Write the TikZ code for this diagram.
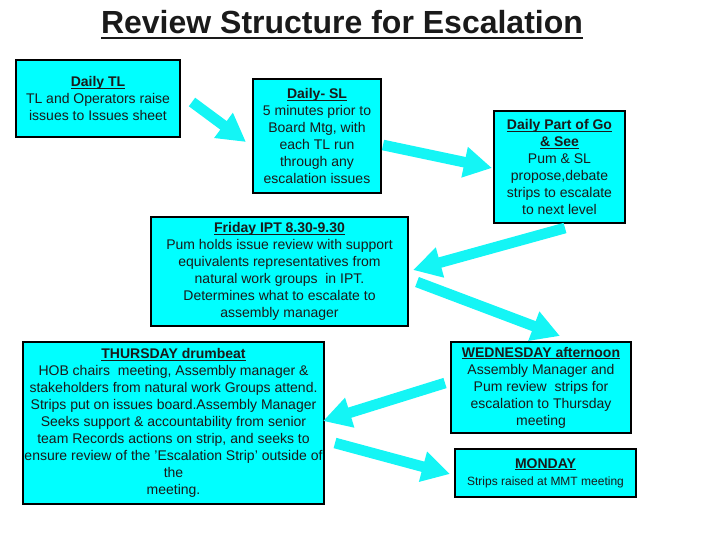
\documentclass[tikz,border=0pt]{standalone}
\usepackage{fontspec}
\setmainfont{Liberation Sans}
\usetikzlibrary{arrows.meta}
\definecolor{ink}{HTML}{1A1A1A}
\definecolor{aqua}{HTML}{00FFFF}
\definecolor{flowcol}{HTML}{14F5F5}
\tikzset{
  card/.style 2 args={draw=black,line width=0.9pt,fill=aqua,inner sep=0pt,
    minimum width=#1,minimum height=#2,align=center,text=ink,
    font=\fontsize{10.5}{12.75}\selectfont},
  push/.style={flowcol,line width=8pt,-{Triangle[length=21pt,width=22pt]}},
}
% bold heading with a rule close under the baseline
\newcommand{\hd}[1]{\leavevmode\setbox0=\hbox{\bfseries #1}\rlap{\copy0}\rule[-1.7pt]{\wd0}{0.7pt}}

\begin{document}
\begin{tikzpicture}[x=0.75pt,y=-0.75pt]
\useasboundingbox (0,0) rectangle (720,540);

% ---------------------------------------------------------------- title
\node[text=ink,font=\bfseries\fontsize{24}{28}\selectfont] (title) at (342,25)
     {\setbox0=\hbox{Review Structure for Escalation}\rlap{\copy0}\rule[-4pt]{\wd0}{1.5pt}};

% ---------------------------------------------------------------- boxes
\node[card={123pt}{57.75pt}] (tl) at (98,98.5)
     {\hd{Daily TL}\\TL and Operators raise\\issues to Issues sheet};
\node[card={96pt}{85.5pt}] (sl) at (317,136)
     {\hd{Daily- SL}\\5 minutes prior to\\Board Mtg, with\\each TL run\\through any\\escalation issues};
\node[card={98.25pt}{84pt}] (gosee) at (559.5,167)
     {\hd{Daily Part of Go}\\\hd{\& See}\\Pum \& SL\\propose,debate\\strips to escalate\\to next level};
\node[card={192.75pt}{81.75pt}] (fri) at (279.5,271.5)
     {\hd{Friday IPT 8.30-9.30}\\Pum holds issue review with support\\equivalents representatives from\\natural work groups \ in IPT.\\Determines what to escalate to\\assembly manager};
\node[card={225.75pt}{121.5pt}] (thu) at (173.5,423)
     {\hd{THURSDAY drumbeat}\\HOB chairs \ meeting, Assembly manager \&\\stakeholders from natural work Groups attend.\\Strips put on issues board.Assembly Manager\\Seeks support \& accountability from senior\\team Records actions on strip, and seeks to\\ensure review of the 'Escalation Strip' outside of\\the\\meeting.};
\node[card={135pt}{68.25pt}] (wed) at (541,387.5)
     {\hd{WEDNESDAY afternoon}\\Assembly Manager and\\Pum review \ strips for\\escalation to Thursday\\meeting};
\node[card={135.75pt}{36pt}] (mon) at (545.5,473)
     {\hd{MONDAY}\\{\fontsize{9}{12}\selectfont Strips raised at MMT meeting}};

% ---------------------------------------------------------------- arrow ends
\coordinate (a1s) at (192,102);   \coordinate (a1e) at (246,142);
\coordinate (a2s) at (383,145);   \coordinate (a2e) at (492,168);
\coordinate (a3s) at (565,228);   \coordinate (a3e) at (413,270);
\coordinate (a4s) at (417,282);   \coordinate (a4e) at (560,336);
\coordinate (a5s) at (445,383);   \coordinate (a5e) at (323,421);
\coordinate (a6s) at (335,443);   \coordinate (a6e) at (450,474);

% ---------------------------------------------------------------- arrows
\draw[push] (a1s) -- (a1e);   % TL -> SL
\draw[push] (a2s) -- (a2e);   % SL -> go & see
\draw[push] (a3s) -- (a3e);   % go & see -> friday
\draw[push] (a4s) -- (a4e);   % friday -> wednesday
\draw[push] (a5s) -- (a5e);   % wednesday -> thursday
\draw[push] (a6s) -- (a6e);   % thursday -> monday

\end{tikzpicture}
\end{document}
